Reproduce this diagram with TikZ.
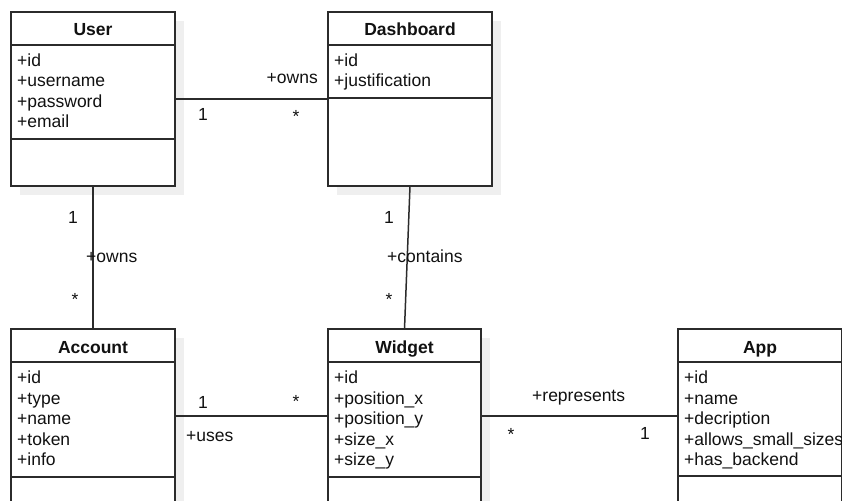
\documentclass[tikz,border=0pt]{standalone}
\usepackage{fontspec}
\setmainfont{Liberation Sans}
\usetikzlibrary{backgrounds}
\definecolor{linec}{HTML}{2B2B2B}
\definecolor{shadowc}{HTML}{EFEFEF}
\definecolor{txtc}{HTML}{111111}
\newcommand\umlfont{\fontsize{17.5}{20.5}\selectfont}
\tikzset{
  cls/.style={draw=linec, line width=1.5pt, fill=white, anchor=north west,
    minimum width=164pt, minimum height=174pt, inner sep=0pt, outer sep=0pt},
  clsnarrow/.style={cls, minimum width=153pt},
  divider/.style={draw=linec, line width=1.5pt},
  conn/.style={draw=linec, line width=1.5pt},
  shade/.style={fill=shadowc},
  title/.style={anchor=base, inner sep=0pt, font=\umlfont\bfseries, text=txtc},
  attr/.style={anchor=base west, inner sep=0pt, font=\umlfont, text=txtc},
  lbl/.style={anchor=base west, inner sep=0pt, font=\umlfont, text=txtc},
}
\newcommand\attrlist[2]{%
  \foreach \t [count=\i from 0] in {#2}
    \node[attr] at ([xshift=6pt, yshift={-54.5pt-20.5pt*\i}]#1.north west) {\t};}
\newcommand\classparts[3]{% node, title, second divider offset
  \draw[divider] ([yshift=-33pt]#1.north west) -- ([yshift=-33pt]#1.north east);
  \draw[divider] ([yshift=-#3pt]#1.north west) -- ([yshift=-#3pt]#1.north east);
  \node[title] at ([yshift=-24pt]#1.north) {#2};}
\begin{document}
\begin{tikzpicture}[x=1pt, y=-1pt]
\useasboundingbox (0,0) rectangle (842,500);
\clip (0,0) rectangle (842,500);

\node[cls] (user) at (11,12) {};
\node[cls] (dash) at (328,12) {};
\node[cls] (account) at (11,329) {};
\node[clsnarrow] (widget) at (328,329) {};
\node[cls] (app) at (678,329) {};

\begin{scope}[on background layer]
  \fill[white] (0,0) rectangle (842,500);
  \foreach \n in {user,dash,account,widget,app}
    \fill[shade] ([shift={(9pt,-9pt)}]\n.north west) rectangle ([shift={(9pt,-9pt)}]\n.south east);
\end{scope}

\classparts{user}{User}{127}
\classparts{dash}{Dashboard}{86}
\classparts{account}{Account}{148}
\classparts{widget}{Widget}{148}
\classparts{app}{App}{147}

\attrlist{user}{+id,+username,+password,+email}
\attrlist{dash}{+id,+justification}
\attrlist{account}{+id,+type,+name,+token,+info}
\attrlist{widget}{+id,+position\_x,+position\_y,+size\_x,+size\_y}
\attrlist{app}{+id,+name,+decription,+allows\_small\_sizes,+has\_backend}

\draw[conn] (user) -- (dash);
\draw[conn] (user) -- (account);
\draw[conn] (dash.south) -- (widget.north);
\draw[conn] (account) -- (widget);
\draw[conn] (widget) -- (app);

\node[lbl, anchor=base east] (l1) at (318,84) {+owns};
\node[lbl] (l2) at (198,121) {1};
\node[lbl] (l3) at (292.5,122) {*};
\node[lbl] (l4) at (68,223) {1};
\node[lbl] (l5) at (86,262) {+owns};
\node[lbl] (l6) at (71.5,305) {*};
\node[lbl] (l7) at (384,223) {1};
\node[lbl] (l8) at (387,262) {+contains};
\node[lbl] (l9) at (385.5,305) {*};
\node[lbl] (l10) at (198,408) {1};
\node[lbl] (l11) at (292.5,407) {*};
\node[lbl] (l12) at (186,441) {+uses};
\node[lbl] (l13) at (532,401) {+represents};
\node[lbl] (l14) at (507.5,440) {*};
\node[lbl] (l15) at (640,439) {1};
\end{tikzpicture}
\end{document}
